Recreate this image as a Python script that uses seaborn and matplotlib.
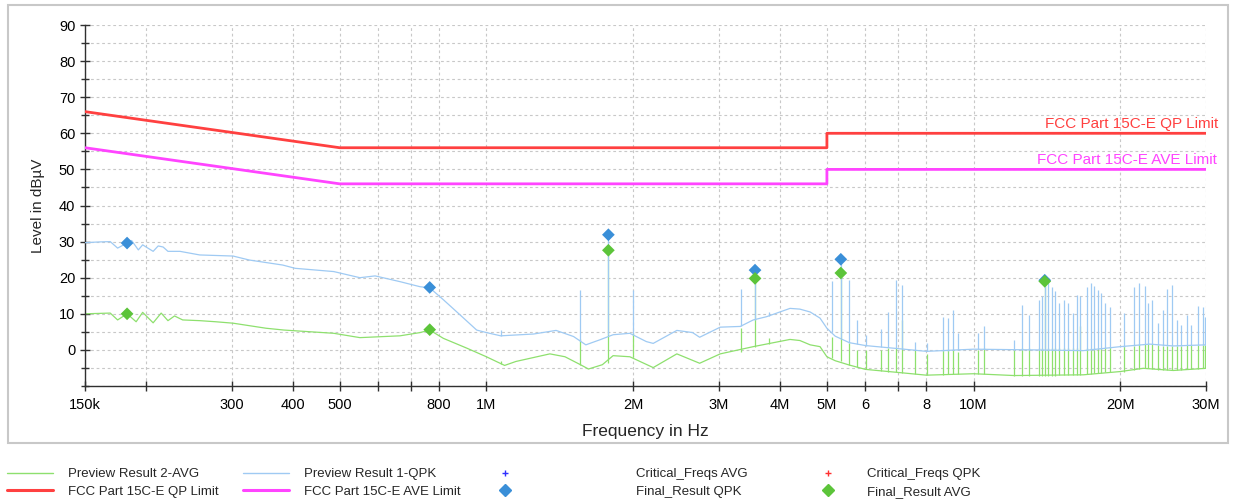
import numpy as np
import pandas as pd
import matplotlib
matplotlib.use("Agg")
import matplotlib.pyplot as plt
import seaborn as sns
from matplotlib.ticker import FixedLocator, FixedFormatter, MultipleLocator, NullLocator
from matplotlib.lines import Line2D
from matplotlib.patches import Rectangle

# ---------------- data (frequencies in MHz, levels in dBuV) ----------------
qpk_mhz = [0.150, 0.160, 0.169, 0.175, 0.183, 0.187, 0.193, 0.197, 0.207, 0.212,
           0.217, 0.222, 0.235, 0.258, 0.302, 0.326, 0.382, 0.405, 0.486, 0.550,
           0.591, 0.665, 0.731, 0.765, 0.816, 0.883, 0.955, 1.00, 1.07, 1.25,
           1.39, 1.51, 1.60, 1.71, 1.82, 1.97, 2.13, 2.20, 2.46, 2.65,
           2.74, 3.02, 3.32, 3.53, 3.76, 4.20, 4.40, 4.62, 4.84, 5.00,
           5.20, 5.56, 6.00, 7.07, 8.00, 10.0, 13.3, 16.8, 20.0, 23.0,
           25.7, 30.0]
qpk_level = [29.7, 29.9, 30.0, 28.2, 29.6, 30.3, 27.7, 29.1, 27.3, 28.8,
             28.5, 27.3, 27.3, 26.3, 26.0, 24.9, 23.5, 22.6, 21.7, 20.0,
             20.5, 18.9, 17.5, 17.2, 13.9, 9.7, 5.5, 4.8, 3.9, 4.4,
             5.4, 3.7, 1.4, 2.8, 4.2, 4.6, 2.3, 1.8, 5.4, 4.8,
             3.5, 6.3, 6.5, 8.3, 9.2, 11.5, 11.3, 10.5, 8.8, 6.0,
             3.8, 2.0, 1.2, 0.3, -0.4, 0.2, 0.0, -0.2, 0.9, 1.6,
             1.1, 1.4]

avg_mhz = [0.150, 0.169, 0.175, 0.183, 0.191, 0.197, 0.207, 0.215, 0.222, 0.229,
           0.238, 0.258, 0.278, 0.302, 0.353, 0.384, 0.486, 0.550, 0.665, 0.731,
           0.765, 0.816, 0.911, 1.00, 1.09, 1.15, 1.35, 1.45, 1.56, 1.62,
           1.73, 1.82, 1.97, 2.20, 2.46, 2.74, 3.02, 3.53, 4.20, 4.40,
           4.62, 4.84, 5.00, 5.20, 5.56, 6.00, 7.07, 8.00, 10.0, 12.1,
           16.8, 20.0, 22.3, 25.7, 30.0]
avg_level = [10.0, 10.2, 8.3, 10.0, 7.8, 10.4, 7.5, 10.2, 8.1, 9.4,
             8.3, 8.1, 7.8, 7.4, 6.0, 5.5, 4.6, 3.4, 3.9, 4.8,
             5.5, 3.2, 0.5, -1.9, -4.3, -3.2, -1.1, -1.9, -4.1, -5.3,
             -4.1, -1.6, -1.9, -4.9, -1.1, -3.7, -1.1, 0.9, 2.9, 2.6,
             1.4, 0.9, -1.9, -3.0, -4.2, -5.4, -6.3, -7.0, -6.6, -7.1,
             -6.9, -6.0, -5.1, -5.7, -5.1]

# narrow emission lines in the preview scans
spike_mhz = [1.07, 1.557, 1.78, 2.00, 3.33, 3.56, 3.80, 5.11, 5.34, 5.56,
             5.77, 6.02, 6.45, 6.68, 6.92, 7.12, 7.58, 8.01, 8.67, 8.87,
             9.09, 9.30, 10.2, 10.5, 12.1, 12.6, 13.0, 13.6, 13.8, 14.0,
             14.2, 14.5, 14.7, 15.0, 15.3, 15.6, 16.0, 16.3, 16.5, 17.1,
             17.4, 17.7, 18.0, 18.3, 18.6, 19.1, 20.4, 21.3, 21.9, 22.5,
             22.8, 23.2, 23.9, 24.5, 24.9, 25.5, 26.1, 26.7, 27.4, 28.0,
             28.9, 29.6, 29.9]
spike_qpk_top = [5.5, 16.6, 31.5, 16.5, 16.8, 21.8, 10.6, 19.1, 24.8, 19.4,
                 8.3, 4.1, 5.7, 10.6, 19.4, 18.0, 2.3, 1.8, 9.1, 8.8,
                 11.1, 4.6, 4.6, 6.5, 2.8, 12.5, 9.7, 13.9, 14.8, 19.1,
                 19.4, 17.5, 16.2, 13.0, 13.9, 13.0, 10.2, 15.2, 14.8, 17.4,
                 18.5, 17.7, 16.6, 15.7, 13.0, 12.0, 10.2, 17.4, 18.5, 17.7,
                 13.0, 13.9, 7.4, 11.1, 16.8, 18.0, 8.3, 7.0, 9.7, 7.0,
                 12.2, 12.0, 9.2]
spike_qpk_base = [3.9, 2.5, 4.0, 4.5, 6.5, 8.3, 9.3, 5.0, 3.2, 2.0,
                  1.6, 1.2, 0.9, 0.7, 0.5, 0.3, 0.0, -0.4, -0.3, -0.2,
                  -0.1, 0.0, 0.2, 0.2, 0.0, 0.0, 0.0, 0.0, 0.0, 0.0,
                  0.0, 0.0, 0.0, 0.0, 0.0, 0.0, -0.1, -0.1, -0.1, 0.0,
                  0.0, 0.1, 0.2, 0.3, 0.4, 0.6, 0.9, 1.2, 1.4, 1.5,
                  1.6, 1.5, 1.3, 1.2, 1.1, 1.1, 1.2, 1.2, 1.3, 1.3,
                  1.4, 1.4, 1.4]
spike_avg_top = [-3.0, 3.0, 27.3, 4.6, 6.2, 19.6, 3.2, 3.5, 21.0, 2.0,
                 0.0, 0.0, 0.0, 0.5, 0.5, 8.3, 0.0, -1.0, 0.0, 0.0,
                 0.0, -0.5, 0.0, 0.5, 0.0, 0.5, 0.5, 0.5, 0.5, 18.5,
                 0.5, 0.5, 0.5, 0.5, 0.5, 0.5, 0.5, 0.5, 6.5, 0.5,
                 0.5, 0.5, 0.5, 0.5, 0.5, 0.8, 1.0, 1.2, 1.5, 1.5,
                 1.6, 1.5, 1.3, 1.2, 1.1, 1.1, 1.2, 1.2, 1.3, 1.3,
                 1.4, 1.4, 1.4]
spike_avg_base = [-4.0, -4.1, -3.5, -2.0, -0.5, 0.9, 1.5, -2.3, -3.2, -4.2,
                  -4.8, -5.4, -5.8, -6.0, -6.2, -6.3, -6.6, -7.0, -6.9, -6.8,
                  -6.8, -6.7, -6.6, -6.7, -7.1, -7.1, -7.1, -7.1, -7.1, -7.1,
                  -7.1, -7.1, -7.1, -7.0, -7.0, -7.0, -7.0, -6.9, -6.9, -6.7,
                  -6.6, -6.5, -6.4, -6.3, -6.2, -6.1, -6.0, -5.5, -5.2, -5.1,
                  -5.1, -5.3, -5.5, -5.6, -5.7, -5.7, -5.6, -5.5, -5.4, -5.3,
                  -5.2, -5.1, -5.1]

# final measurement results
final_mhz = [0.183, 0.765, 1.78, 3.56, 5.34, 14.0]
final_qpk = [29.6, 17.3, 31.9, 22.1, 25.1, 19.3]
final_avg = [10.0, 5.6, 27.6, 19.8, 21.3, 19.0]

# FCC Part 15C class B conducted limits
limit_mhz = [0.15, 0.5, 5.0, 5.0, 30.0]
limit_qp = [66, 56, 56, 60, 60]
limit_ave = [56, 46, 46, 50, 50]

tick_hz = [150e3, 200e3, 300e3, 400e3, 500e3, 600e3, 700e3, 800e3, 1e6, 2e6,
           3e6, 4e6, 5e6, 6e6, 7e6, 8e6, 10e6, 20e6, 30e6]
tick_text = ["150k", "", "300", "400", "500", "", "", "800", "1M", "2M",
             "3M", "4M", "5M", "6", "", "8", "10M", "20M", "30M"]

C_AVG = "#8ee06e"
C_QPK = "#9fcaf3"
C_QPL = "#ff4040"
C_AVL = "#ff44ff"
C_FQ = "#3a8fd8"
C_FA = "#5cc43a"

sns.set_theme(style="white")
plt.rcParams["font.family"] = ["Liberation Sans", "DejaVu Sans"]

W, H = 1235, 504
fig = plt.figure(figsize=(W / 100, H / 100), dpi=100)
ax = fig.add_axes([85 / W, 1 - 386 / H, (1206 - 85) / W, (386 - 25) / H])

hz = lambda v: np.asarray(v) * 1e6
df_avg = pd.DataFrame({"f": hz(avg_mhz), "lvl": avg_level})
df_qpk = pd.DataFrame({"f": hz(qpk_mhz), "lvl": qpk_level})
df_qpl = pd.DataFrame({"f": hz(limit_mhz), "lvl": limit_qp})
df_avl = pd.DataFrame({"f": hz(limit_mhz), "lvl": limit_ave})

# preview scans
sns.lineplot(data=df_avg, x="f", y="lvl", ax=ax, color=C_AVG, lw=0.9,
             estimator=None, sort=False, zorder=2)
ax.vlines(hz(spike_mhz), spike_avg_base, spike_avg_top, color=C_AVG, lw=0.9, zorder=2)
sns.lineplot(data=df_qpk, x="f", y="lvl", ax=ax, color=C_QPK, lw=0.9,
             estimator=None, sort=False, zorder=3)
ax.vlines(hz(spike_mhz), spike_qpk_base, spike_qpk_top, color=C_QPK, lw=0.9, zorder=3)

# limits
sns.lineplot(data=df_qpl, x="f", y="lvl", ax=ax, color=C_QPL, lw=2.0,
             estimator=None, sort=False, zorder=4)
sns.lineplot(data=df_avl, x="f", y="lvl", ax=ax, color=C_AVL, lw=2.0,
             estimator=None, sort=False, zorder=4)

# final results
sns.scatterplot(x=hz(final_mhz), y=final_qpk, ax=ax, marker="D", s=42,
                color=C_FQ, edgecolor="none", zorder=5)
sns.scatterplot(x=hz(final_mhz), y=final_avg, ax=ax, marker="D", s=42,
                color=C_FA, edgecolor="none", zorder=6)

ax.annotate("FCC Part 15C-E QP Limit", xy=(30e6, limit_qp[-1]), xytext=(9, 2),
            textcoords="offset points", ha="right", va="bottom",
            color=C_QPL, fontsize=11)
ax.annotate("FCC Part 15C-E AVE Limit", xy=(30e6, limit_ave[-1]), xytext=(8, 2),
            textcoords="offset points", ha="right", va="bottom",
            color=C_AVL, fontsize=11)

# axes
ax.set_xscale("log")
ax.set_xlim(150e3, 30e6)
ax.set_ylim(-10, 90)
ax.xaxis.set_major_locator(FixedLocator(tick_hz))
ax.xaxis.set_major_formatter(FixedFormatter(tick_text))
ax.xaxis.set_minor_locator(NullLocator())
ax.yaxis.set_major_locator(FixedLocator(list(range(0, 91, 10))))
ax.yaxis.set_minor_locator(MultipleLocator(5))
ax.grid(True, which="both", ls=(0, (2.5, 2.5)), color="#c8c8c8", lw=0.8)
ax.set_axisbelow(True)
for s in ["top", "right"]:
    ax.spines[s].set_visible(False)
for s in ["left", "bottom"]:
    ax.spines[s].set_color("#303030")
    ax.spines[s].set_linewidth(1.0)
ax.tick_params(axis="both", which="both", direction="inout", color="#303030",
               labelsize=10.5, labelcolor="black", left=True, bottom=True)
ax.tick_params(axis="both", which="major", length=7, width=1)
ax.tick_params(axis="both", which="minor", length=6, width=1)
ax.tick_params(axis="x", pad=5)
ax.set_xlabel("Frequency in Hz", fontsize=12.5, labelpad=9)
ax.set_ylabel("Level in dBµV", fontsize=11, labelpad=10)

# outer frame of the chart area
fig.patches.append(Rectangle((8 / W, 1 - 443 / H), 1220 / W, 438 / H,
                             transform=fig.transFigure, fill=False,
                             ec="#c8c8c8", lw=1.5))

# legend, laid out in four separate columns
leg_kw = dict(frameon=False, fontsize=9.5, borderpad=0, labelspacing=0.4,
              loc="upper left", borderaxespad=0)
col1 = [Line2D([], [], color=C_AVG, lw=1), Line2D([], [], color=C_QPL, lw=2.2)]
col2 = [Line2D([], [], color=C_QPK, lw=1), Line2D([], [], color=C_AVL, lw=2.2)]
col3 = [Line2D([], [], ls="none", marker="+", ms=5, mew=1, color="#3030ff"),
        Line2D([], [], ls="none", marker="D", ms=6, color=C_FQ)]
col4 = [Line2D([], [], ls="none", marker="+", ms=5, mew=1, color="#ff3030"),
        Line2D([], [], ls="none", marker="D", ms=6, color=C_FA)]
top = 1 - 468 / H
fig.legend(col1, ["Preview Result 2-AVG", "FCC Part 15C-E QP Limit"],
           bbox_to_anchor=(7 / W, top), handlelength=3.5, handletextpad=1.1, **leg_kw)
fig.legend(col2, ["Preview Result 1-QPK", "FCC Part 15C-E AVE Limit"],
           bbox_to_anchor=(243 / W, top), handlelength=3.5, handletextpad=1.1, **leg_kw)
fig.legend(col3, ["Critical_Freqs AVG", "Final_Result QPK"],
           bbox_to_anchor=(384 / W, top), handlelength=18.3, handletextpad=0.8, **leg_kw)
fig.legend(col4, ["Critical_Freqs QPK", "Final_Result AVG"],
           bbox_to_anchor=(800 / W, top), handlelength=4.3, handletextpad=0.8, **leg_kw)

fig.savefig("out.png", dpi=100)
